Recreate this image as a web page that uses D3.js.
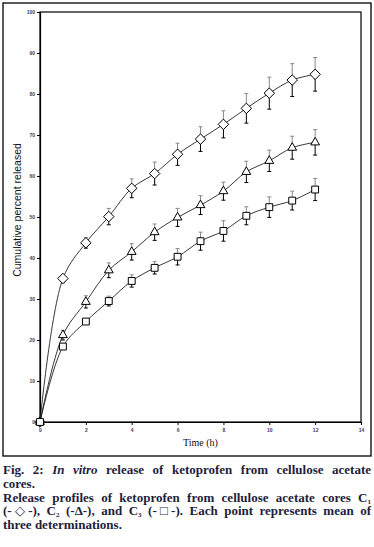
<!DOCTYPE html>
<html lang="en">
<head>
<meta charset="UTF-8">
<title>Ketoprofen release</title>
<script src="https://d3js.org/d3.v7.min.js"></script>
<style>
    body { margin: 0; padding: 0; background: #fff; width: 374px; height: 547px; position: relative; overflow: hidden; }
    #chart { position: absolute; left: 0; top: 0; }
    #caption {
        position: absolute; left: 3px; top: 463px; width: 368px;
        font-family: "Liberation Serif", "DejaVu Serif", serif;
        font-weight: bold; font-size: 13px; line-height: 13.8px;
        color: #1e1e3c;
    }
    #caption .j { text-align: justify; text-align-last: justify; white-space: nowrap; }
    #caption sub { font-size: 7px; line-height: 0; vertical-align: -2px; }
</style>
</head>
<body>
<svg id="chart" width="374" height="460"></svg>
<div id="caption">
    <div class="j">Fig. 2: <i>In vitro</i> release of ketoprofen from cellulose acetate</div>
    <div>cores.</div>
    <div class="j">Release profiles of ketoprofen from cellulose acetate cores C<sub>1</sub></div>
    <div class="j">(-&#9671;-), C<sub>2</sub> (-&#916;-), and C<sub>3</sub> (-&#9633;-). Each point represents mean of</div>
    <div>three determinations.</div>
</div>
<script>
// time points (h)
const hours = [0, 1, 2, 3, 4, 5, 6, 7, 8, 9, 10, 11, 12];

// cumulative percent released
const c1 = [0, 35.0, 43.7, 50.1, 57.0, 60.6, 65.3, 69.0, 72.6, 76.5, 80.2, 83.4, 84.8];
const c2 = [0, 21.2, 29.3, 37.0, 41.5, 46.3, 49.9, 52.9, 56.3, 61.0, 63.7, 66.9, 68.2];
const c3 = [0, 18.4, 24.5, 29.5, 34.4, 37.6, 40.3, 44.1, 46.6, 50.3, 52.4, 54.0, 56.7];

// standard deviations
const c1Err = [0, 1.0, 1.3, 2.0, 2.3, 2.8, 2.7, 3.0, 3.3, 3.6, 3.9, 4.0, 4.1];
const c2Err = [0, 1.2, 1.5, 1.8, 2.0, 2.0, 2.2, 2.3, 2.2, 2.6, 2.6, 2.8, 3.1];
const c3Err = [0, 0, 0, 1.2, 1.5, 1.5, 2.0, 2.2, 2.5, 2.2, 2.5, 2.3, 2.7];

const xTicks = [0, 2, 4, 6, 8, 10, 12, 14];
const yTicks = [0, 10, 20, 30, 40, 50, 60, 70, 80, 90, 100];

const svg = d3.select("#chart");

// outer frame
svg.append("rect")
    .attr("x", 3).attr("y", 3).attr("width", 368).attr("height", 453)
    .attr("fill", "none").attr("stroke", "#000").attr("stroke-width", 1.3);

const x = d3.scaleLinear().domain([0, 14]).range([40, 361]);
const y = d3.scaleLinear().domain([0, 100]).range([422, 12]);

// plot box
svg.append("rect")
    .attr("x", x(0)).attr("y", y(100))
    .attr("width", x(14) - x(0)).attr("height", y(0) - y(100))
    .attr("fill", "none").attr("stroke", "#000").attr("stroke-width", 1.2);

const xAxis = svg.append("g")
    .attr("transform", `translate(0,${y(0)})`)
    .call(d3.axisBottom(x).tickValues(xTicks).tickSize(3).tickPadding(3));
const yAxis = svg.append("g")
    .attr("transform", `translate(${x(0)},0)`)
    .call(d3.axisLeft(y).tickValues(yTicks).tickSize(3).tickPadding(2));

[xAxis, yAxis].forEach(a => {
    a.select(".domain").attr("stroke", "#000").attr("stroke-width", 1.2);
    a.selectAll(".tick line").attr("stroke", "#000");
    a.selectAll("text")
        .attr("font-family", "Arial, 'Liberation Sans', sans-serif")
        .attr("font-size", 5).attr("font-weight", "bold").attr("fill", "#44385a");
});

svg.append("text")
    .attr("x", (x(0) + x(14)) / 2).attr("y", 446)
    .attr("text-anchor", "middle")
    .attr("font-family", "'Liberation Serif', serif")
    .attr("font-size", 10).attr("fill", "#111")
    .text("Time (h)");

svg.append("text")
    .attr("transform", "translate(21,210) rotate(-90)")
    .attr("text-anchor", "middle")
    .attr("font-family", "'Liberation Sans', Arial, sans-serif")
    .attr("font-size", 10.5).attr("fill", "#111")
    .text("Cumulative percent released");

const series = [
    { values: c1, err: c1Err, shape: "diamond" },
    { values: c2, err: c2Err, shape: "triangle" },
    { values: c3, err: c3Err, shape: "square" }
];

const line = d3.line()
    .x(d => x(d.t))
    .y(d => y(d.v))
    .curve(d3.curveCatmullRom.alpha(0.5));

const symbols = {
    diamond: d3.symbol().type(d3.symbolDiamond2).size(70),
    triangle: d3.symbol().type(d3.symbolTriangle2).size(55),
    square: d3.symbol().type(d3.symbolSquare2).size(60)
};

series.forEach(s => {
    const pts = hours.map((t, i) => ({ t: t, v: s.values[i], e: s.err[i] }));

    svg.append("path")
        .datum(pts)
        .attr("d", line)
        .attr("fill", "none")
        .attr("stroke", "#222")
        .attr("stroke-width", 0.9);

    const eb = svg.append("g");
    pts.filter(d => d.e > 0).forEach(d => {
        const cx = x(d.t);
        // upper half grey, lower half black
        eb.append("line").attr("x1", cx).attr("x2", cx)
            .attr("y1", y(d.v)).attr("y2", y(d.v + d.e))
            .attr("stroke", "#888").attr("stroke-width", 1);
        eb.append("line").attr("x1", cx - 2).attr("x2", cx + 2)
            .attr("y1", y(d.v + d.e)).attr("y2", y(d.v + d.e))
            .attr("stroke", "#888").attr("stroke-width", 1);
        eb.append("line").attr("x1", cx).attr("x2", cx)
            .attr("y1", y(d.v)).attr("y2", y(d.v - d.e))
            .attr("stroke", "#000").attr("stroke-width", 1);
        eb.append("line").attr("x1", cx - 2).attr("x2", cx + 2)
            .attr("y1", y(d.v - d.e)).attr("y2", y(d.v - d.e))
            .attr("stroke", "#000").attr("stroke-width", 1);
    });

    svg.append("g").selectAll("path")
        .data(pts)
        .join("path")
        .attr("transform", d => `translate(${x(d.t)},${y(d.v)})`)
        .attr("d", symbols[s.shape])
        .attr("fill", "#fff")
        .attr("stroke", "#000")
        .attr("stroke-width", 1);
});
</script>
</body>
</html>
